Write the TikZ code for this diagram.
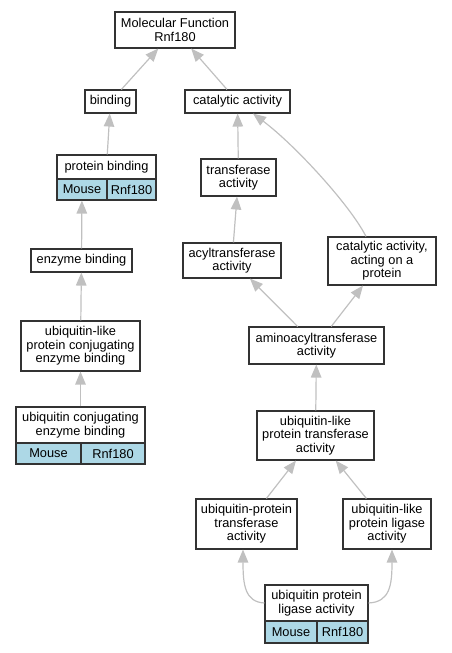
\documentclass[tikz,border=0pt]{standalone}
\usepackage{fontspec}
\setmainfont{Liberation Sans}
\usetikzlibrary{arrows.meta}
\definecolor{lblue}{HTML}{ADD8E6}
\definecolor{edgegray}{HTML}{C0C0C0}
\definecolor{boxline}{HTML}{333333}
\begin{document}
\begin{tikzpicture}[x=1pt,y=-1pt,
  box/.style={draw=boxline, line width=1.1pt, fill=white, inner sep=0pt, align=center,
    font=\fontsize{12.8}{13.4}\selectfont},
  cell/.style={box, fill=lblue},
  edge/.style={draw=edgegray, line width=1.2pt, -{Triangle[length=13pt,width=10.5pt,fill=edgegray]}}]
\useasboundingbox (0,0) rectangle (451,653);
% nodes
\node[box, minimum width=120, minimum height=36] (mf) at (175,30) {Molecular Function\\Rnf180};
\node[box, minimum width=51, minimum height=23] (bind) at (110.5,101.5) {binding};
\node[box, minimum width=105, minimum height=23] (cat) at (237.5,101.5) {catalytic activity};
\node[box, minimum width=99, minimum height=24] (pbt) at (106.5,167) {protein binding};
\node[cell, minimum width=50, minimum height=21] (pbm) at (82,189.5) {Mouse};
\node[cell, minimum width=49, minimum height=21] (pbr) at (131.5,189.5) {Rnf180};
\node[box, minimum width=75, minimum height=37] (tr) at (238.5,177.5) {transferase\\activity};
\node[box, minimum width=101, minimum height=23] (eb) at (81.5,260.5) {enzyme binding};
\node[box, minimum width=119, minimum height=50] (ulc) at (80.5,346) {ubiquitin-like\\protein conjugating\\enzyme binding};
\node[box, minimum width=129, minimum height=36] (uct) at (80.5,425) {ubiquitin conjugating\\enzyme binding};
\node[cell, minimum width=65, minimum height=21] (ucm) at (48.5,453.5) {Mouse};
\node[cell, minimum width=64, minimum height=21] (ucr) at (113,453.5) {Rnf180};
\node[box, minimum width=98, minimum height=35] (acyl) at (232,260.5) {acyltransferase\\activity};
\node[box, minimum width=108, minimum height=48] (cap) at (382,261) {catalytic activity,\\acting on a\\protein};
\node[box, minimum width=135, minimum height=37] (amino) at (316.5,345.5) {aminoacyltransferase\\activity};
\node[box, minimum width=117, minimum height=49] (ult) at (315.5,435.5) {ubiquitin-like\\protein transferase\\activity};
\node[box, minimum width=101, minimum height=50] (upt) at (246.5,524) {ubiquitin-protein\\transferase\\activity};
\node[box, minimum width=88, minimum height=50] (ull) at (387,524) {ubiquitin-like\\protein ligase\\activity};
\node[box, minimum width=103, minimum height=36] (uplt) at (316.5,603) {ubiquitin protein\\ligase activity};
\node[cell, minimum width=52, minimum height=22] (uplm) at (291,632) {Mouse};
\node[cell, minimum width=51, minimum height=22] (uplr) at (342.5,632) {Rnf180};
% edges
\draw[edge] (bind) -- (mf);
\draw[edge] (cat) -- (mf);
\draw[edge] (pbt) -- (bind);
\draw[edge] (tr) -- (cat);
\draw[edge] ([xshift=-16pt]cap.north) .. controls (350,205) and (295,145) .. ([xshift=15.5pt]cat.south);
\draw[edge] (eb) -- (pbm);
\draw[edge] (acyl) -- (tr);
\draw[edge] (ulc) -- (eb);
\draw[edge] (uct) -- (ulc);
\draw[edge] (amino) -- (acyl);
\draw[edge] (amino) -- (cap);
\draw[edge] (ult) -- (amino);
\draw[edge] (upt) -- (ult);
\draw[edge] (ull) -- (ult);
\draw[edge] (uplt.west) .. controls (245,602) and (243,585) .. ([xshift=-3.5pt]upt.south);
\draw[edge] (uplt.east) .. controls (390,602) and (392,585) .. ([xshift=5pt]ull.south);
\end{tikzpicture}
\end{document}
